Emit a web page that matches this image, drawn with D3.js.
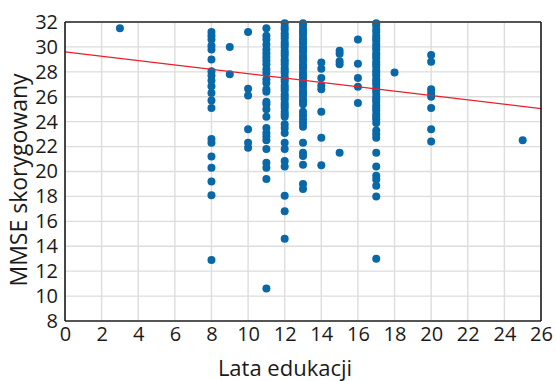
<!DOCTYPE html>
<html>
<head>
<meta charset="utf-8">
<script src="https://cdn.jsdelivr.net/npm/d3@7/dist/d3.min.js"></script>
<style>
  html, body { margin: 0; padding: 0; background: #fff; }
  svg { display: block; }
  text { font-family: "Open Sans", "Noto Sans", sans-serif; fill: #1a1a1a; }
</style>
</head>
<body>
<svg id="chart" width="556" height="381"></svg>
<script>
// ---- Data ----
const xTicks = [0, 2, 4, 6, 8, 10, 12, 14, 16, 18, 20, 22, 24, 26];
const yTicks = [8, 10, 12, 14, 16, 18, 20, 22, 24, 26, 28, 30, 32];
const xLabel = "Lata edukacji";
const yLabel = "MMSE skorygowany";

const years = [3, 8, 9, 10, 11, 12, 13, 14, 15, 16, 17, 18, 20, 25];
const mmse3  = [31.5];
const mmse8  = [31.2, 30.9, 30.6, 30.1, 29.8, 29.0, 28.05, 27.7, 27.3, 26.85, 26.3, 25.7, 25.1, 22.6, 22.3, 21.2, 20.3, 19.2, 18.1, 12.9];
const mmse9  = [30.0, 27.8];
const mmse10 = [31.2, 26.65, 26.1, 23.4, 22.3, 21.9];
const mmse11 = [31.5, 30.9, 30.6, 30.2, 29.8, 29.5, 29.2, 28.9, 28.6, 28.2, 27.9, 27.4, 27.1, 26.6, 26.4, 25.6, 25.4, 25.0, 24.4, 23.5, 23.1, 22.8, 22.5, 21.8, 20.7, 20.3, 19.4, 10.6];
const mmse12 = [31.9, 31.6, 31.4, 31.1, 30.9, 30.7, 30.4, 30.2, 30.0, 29.7, 29.5, 29.3, 29.0, 28.8, 28.6, 28.3, 28.1, 27.9, 27.6, 27.4, 27.2, 26.9, 26.7, 26.5, 26.2, 26.0, 25.8, 25.5, 25.3, 25.1, 24.8, 24.6, 24.4, 23.8, 23.5, 23.1, 22.3, 21.8, 20.85, 20.4, 18.05, 16.8, 14.6];
const mmse13 = [31.9, 31.7, 31.4, 31.2, 31.0, 30.7, 30.5, 30.3, 30.0, 29.8, 29.6, 29.3, 29.1, 28.9, 28.6, 28.4, 28.2, 27.9, 27.7, 27.5, 27.2, 27.0, 26.8, 26.5, 26.3, 26.1, 25.8, 25.6, 25.4, 24.8, 24.5, 24.2, 23.9, 23.6, 22.3, 21.5, 21.25, 20.55, 19.0, 18.6];
const mmse14 = [28.75, 28.25, 27.5, 26.9, 26.6, 24.8, 22.7, 20.5];
const mmse15 = [29.7, 29.45, 28.85, 28.6, 21.5];
const mmse16 = [30.6, 28.65, 27.5, 26.8, 25.5];
const mmse17 = [31.9, 31.7, 31.4, 31.2, 30.9, 30.7, 30.5, 30.2, 30.0, 29.8, 29.5, 29.3, 29.1, 28.8, 28.6, 28.4, 28.1, 27.9, 27.7, 27.4, 27.2, 27.0, 26.7, 26.5, 26.3, 26.0, 25.8, 25.6, 25.3, 25.1, 24.9, 24.6, 24.4, 24.2, 23.9, 23.3, 23.0, 22.7, 21.5, 20.4, 19.65, 19.35, 18.85, 18.0, 13.0];
const mmse18 = [27.95];
const mmse20 = [29.35, 28.8, 26.6, 26.3, 26.0, 25.1, 23.4, 22.4];
const mmse25 = [22.5];
const mmseColumns = [mmse3, mmse8, mmse9, mmse10, mmse11, mmse12, mmse13, mmse14, mmse15, mmse16, mmse17, mmse18, mmse20, mmse25];

// Regression line endpoints
const fitX = [0, 26];
const fitY = [29.6, 25.05];

// ---- Build points ----
const points = [];
years.forEach((yr, i) => mmseColumns[i].forEach(v => points.push({x: yr, y: v})));

// ---- Layout ----
const svg = d3.select("#chart");
const mLeft = 65, mRight = 541, mTop = 22, mBottom = 321;

const x = d3.scaleLinear().domain([0, 26]).range([mLeft, mRight]);
const y = d3.scaleLinear().domain([8, 32]).range([mBottom, mTop]);

// grid
const grid = svg.append("g");
grid.selectAll("line.v").data(xTicks).join("line")
  .attr("x1", d => x(d)).attr("x2", d => x(d))
  .attr("y1", mTop).attr("y2", mBottom)
  .attr("stroke", "#dddddd").attr("stroke-width", 1.4);
grid.selectAll("line.h").data(yTicks).join("line")
  .attr("x1", mLeft).attr("x2", mRight)
  .attr("y1", d => y(d)).attr("y2", d => y(d))
  .attr("stroke", "#dddddd").attr("stroke-width", 1.4);

// axes (labels only)
const xAxis = d3.axisBottom(x).tickValues(xTicks).tickSize(0).tickPadding(6);
const gx = svg.append("g").attr("transform", `translate(0,${mBottom})`).call(xAxis);
gx.select(".domain").remove();
gx.selectAll("text").attr("font-size", 20).style("font-family", '"Open Sans", sans-serif').attr("fill", "#1a1a1a");

const yAxis = d3.axisLeft(y).tickValues(yTicks).tickSize(0).tickPadding(7);
const gy = svg.append("g").attr("transform", `translate(${mLeft},0)`).call(yAxis);
gy.select(".domain").remove();
gy.selectAll("text").attr("font-size", 20).style("font-family", '"Open Sans", sans-serif').attr("fill", "#1a1a1a");

// points
svg.append("g").selectAll("circle").data(points).join("circle")
  .attr("cx", d => x(d.x)).attr("cy", d => y(d.y))
  .attr("r", 4).attr("fill", "#0868a8");

// regression line
svg.append("line")
  .attr("x1", x(fitX[0])).attr("y1", y(fitY[0]))
  .attr("x2", x(fitX[1])).attr("y2", y(fitY[1]))
  .attr("stroke", "#e8202a").attr("stroke-width", 1.2);

// frame
svg.append("line").attr("x1", mLeft).attr("x2", mRight).attr("y1", mTop).attr("y2", mTop)
  .attr("stroke", "#555").attr("stroke-width", 2);
svg.append("line").attr("x1", mLeft).attr("x2", mRight).attr("y1", mBottom).attr("y2", mBottom)
  .attr("stroke", "#555").attr("stroke-width", 2);
svg.append("line").attr("x1", mLeft).attr("x2", mLeft).attr("y1", mTop).attr("y2", mBottom)
  .attr("stroke", "#111").attr("stroke-width", 1.5);
svg.append("line").attr("x1", mRight).attr("x2", mRight).attr("y1", mTop).attr("y2", mBottom)
  .attr("stroke", "#111").attr("stroke-width", 1.5);

// axis titles
svg.append("text").attr("x", 285).attr("y", 376)
  .attr("text-anchor", "middle").attr("font-size", 22).text(xLabel);
svg.append("text")
  .attr("transform", `translate(27,${180}) rotate(-90)`)
  .attr("text-anchor", "middle").attr("font-size", 23).text(yLabel);
</script>
</body>
</html>
